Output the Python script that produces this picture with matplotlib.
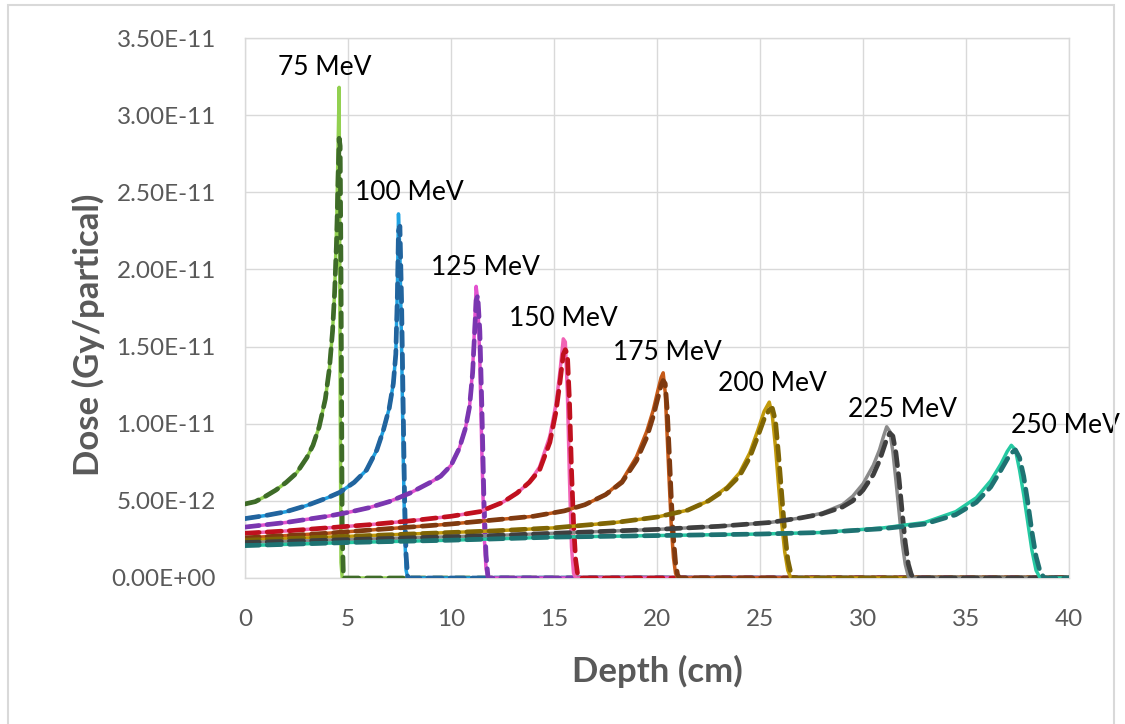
import matplotlib
matplotlib.use("Agg")
import matplotlib.pyplot as plt
from matplotlib.patches import Rectangle
from matplotlib.ticker import FixedLocator, FuncFormatter
import numpy as np

plt.rcParams['font.family'] = ['Lato', 'DejaVu Sans']

# Depth-dose curves (depth in cm, dose in 1e-12 Gy/particle)
energies = ["75 MeV", "100 MeV", "125 MeV", "150 MeV", "175 MeV", "200 MeV", "225 MeV", "250 MeV"]

d75 = [0, 0.5, 1, 1.5, 2, 2.5, 3, 3.3, 3.6, 3.9, 4.1, 4.25, 4.35, 4.45, 4.52, 4.57, 4.62, 4.66, 4.72, 4.78, 40]
s75 = [4.8, 4.95, 5.3, 5.7, 6.2, 6.8, 7.8, 8.6, 9.8, 11.6, 13.6, 16.0, 18.5, 23.0, 28.0, 31.8, 12.0, 1.0, 0, 0, 0]
m75 = [4.8, 4.95, 5.3, 5.7, 6.2, 6.8, 7.8, 8.6, 9.8, 11.6, 13.6, 16.0, 18.5, 22.0, 26.0, 28.5, 28.0, 20.0, 3.0, 0, 0]

d100 = [0, 1, 2, 3, 4, 4.6, 5.3, 5.9, 6.4, 6.7, 7.0, 7.2, 7.32, 7.4, 7.45, 7.52, 7.6, 7.68, 7.75, 7.82, 7.9, 40]
s100 = [3.85, 4.05, 4.3, 4.7, 5.2, 5.55, 6.2, 7.0, 8.3, 9.5, 11.0, 12.6, 14.5, 19.0, 23.6, 21.0, 15.0, 8.0, 3.0, 0.5, 0, 0]
m100 = [3.85, 4.05, 4.3, 4.7, 5.2, 5.55, 6.2, 7.0, 8.3, 9.5, 11.0, 12.6, 14.5, 18.5, 22.5, 22.8, 18.0, 11.0, 5.0, 1.5, 0, 0]

d125 = [0, 1, 2, 3, 4, 5, 6, 7, 8, 9, 9.5, 10, 10.4, 10.7, 10.9, 11.05, 11.15, 11.22, 11.3, 11.4, 11.5, 11.6, 11.7, 11.8, 40]
s125 = [3.3, 3.45, 3.6, 3.8, 4.0, 4.25, 4.55, 4.95, 5.5, 6.2, 6.6, 7.3, 8.4, 9.7, 11.1, 13.5, 16.5, 18.9, 18.0, 14.0, 8.0, 3.0, 0.6, 0, 0]
m125 = [3.3, 3.45, 3.6, 3.8, 4.0, 4.25, 4.55, 4.95, 5.5, 6.2, 6.6, 7.3, 8.4, 9.7, 11.1, 13.3, 16.0, 18.0, 18.3, 16.0, 11.0, 5.0, 1.5, 0, 0]

d150 = [0, 2, 4, 6, 8, 10, 11.4, 12.5, 13.2, 13.8, 14.3, 14.8, 15.1, 15.3, 15.45, 15.55, 15.65, 15.75, 15.85, 15.95, 16.05, 16.15, 16.25, 40]
s150 = [2.9, 3.05, 3.25, 3.45, 3.7, 4.0, 4.3, 4.9, 5.5, 6.2, 7.2, 9.2, 11.3, 13.5, 15.5, 15.3, 12.0, 6.5, 2.0, 0.3, 0, 0, 0, 0]
m150 = [2.9, 3.05, 3.25, 3.45, 3.7, 4.0, 4.3, 4.9, 5.5, 6.2, 7.0, 8.8, 10.8, 12.8, 14.5, 14.8, 14.5, 11.5, 7.0, 3.5, 1.2, 0.2, 0, 0]

d175 = [0, 2, 4, 6, 8, 10, 12, 14, 15.5, 16.5, 17.5, 18.3, 19.0, 19.5, 19.8, 20.05, 20.2, 20.3, 20.4, 20.5, 20.6, 20.7, 20.8, 20.9, 21.0, 21.1, 40]
s175 = [2.6, 2.75, 2.9, 3.1, 3.3, 3.5, 3.75, 4.0, 4.35, 4.75, 5.4, 6.3, 7.85, 9.5, 10.8, 12.2, 13.0, 13.3, 12.0, 9.0, 6.0, 3.2, 1.3, 0.3, 0, 0, 0]
m175 = [2.6, 2.75, 2.9, 3.1, 3.3, 3.5, 3.75, 4.0, 4.35, 4.75, 5.4, 6.2, 7.6, 9.1, 10.4, 11.7, 12.5, 12.8, 12.6, 10.8, 8.0, 5.0, 2.6, 1.0, 0.2, 0, 0]

d200 = [0, 3, 6, 9, 12, 15, 18, 20, 21.5, 22.5, 23.4, 24.0, 24.5, 24.9, 25.2, 25.45, 25.6, 25.75, 25.9, 26.05, 26.2, 26.35, 26.5, 26.65, 40]
s200 = [2.45, 2.6, 2.75, 2.9, 3.05, 3.25, 3.6, 3.95, 4.4, 5.0, 5.9, 6.8, 8.1, 9.6, 10.8, 11.4, 10.5, 8.5, 6.0, 3.6, 1.7, 0.5, 0, 0, 0]
m200 = [2.45, 2.6, 2.75, 2.9, 3.05, 3.25, 3.6, 3.95, 4.4, 5.0, 5.8, 6.6, 7.8, 9.2, 10.3, 10.9, 11.0, 10.2, 8.0, 5.5, 3.0, 1.2, 0.3, 0, 0]

d225 = [0, 4, 8, 12, 16, 20, 23, 25.5, 27, 28, 29, 29.5, 30, 30.5, 30.8, 31.0, 31.15, 31.3, 31.45, 31.6, 31.75, 31.9, 32.05, 32.2, 32.35, 32.5, 40]
s225 = [2.3, 2.45, 2.6, 2.75, 2.95, 3.15, 3.35, 3.6, 3.9, 4.2, 4.75, 5.3, 6.1, 7.3, 8.3, 9.2, 9.8, 9.5, 8.2, 6.3, 4.3, 2.3, 0.9, 0.1, 0, 0, 0]
m225 = [2.3, 2.45, 2.6, 2.75, 2.95, 3.15, 3.35, 3.6, 3.9, 4.15, 4.6, 5.0, 5.7, 6.7, 7.6, 8.4, 9.0, 9.4, 9.2, 8.1, 6.4, 4.3, 2.3, 0.9, 0.2, 0, 0]

d250 = [0, 5, 10, 15, 20, 25, 28, 31, 33, 34.5, 35.5, 36.2, 36.7, 37.0, 37.2, 37.4, 37.6, 37.8, 38.0, 38.2, 38.4, 38.6, 38.8, 40]
s250 = [2.1, 2.3, 2.45, 2.65, 2.75, 2.85, 2.95, 3.25, 3.6, 4.3, 5.2, 6.3, 7.4, 8.2, 8.6, 8.3, 7.0, 5.4, 3.6, 1.8, 0.5, 0, 0, 0]
m250 = [2.1, 2.3, 2.45, 2.65, 2.75, 2.85, 2.95, 3.2, 3.5, 4.1, 4.9, 5.9, 7.0, 7.7, 8.1, 8.3, 7.8, 6.6, 4.9, 3.0, 1.4, 0.4, 0, 0]

depths = [d75, d100, d125, d150, d175, d200, d225, d250]
solid_dose = [s75, s100, s125, s150, s175, s200, s225, s250]
dashed_dose = [m75, m100, m125, m150, m175, m200, m225, m250]

solid_colors = ["#92D050", "#1FA2E2", "#E352CF", "#F163B5", "#C65A18", "#C29A0A", "#8A8A8A", "#25C9A2"]
dashed_colors = ["#3E6B28", "#21649E", "#7A36B0", "#C0101E", "#7F3A10", "#7F6505", "#3F3F3F", "#1E7272"]

# Energy label anchors (depth, dose in 1e-12)
label_x = [3.88, 7.99, 11.65, 15.44, 20.49, 25.59, 31.9, 39.85]
label_y = [33.1, 25.0, 20.1, 16.85, 14.6, 12.6, 10.9, 9.9]

scale = 1e-12

fig = plt.figure(figsize=(11.25, 7.24), dpi=100)
fig.patch.set_facecolor("white")
fig.patches.append(Rectangle((8 / 1125, -0.05), 1106 / 1125, 1.05 - 5 / 724,
                             transform=fig.transFigure, fill=False,
                             edgecolor="#D9D9D9", linewidth=1.5))

ax = fig.add_axes([245 / 1125, 1 - 578 / 724, 824 / 1125, 540 / 724])

for x, ys, yd, cs, cd in zip(depths, solid_dose, dashed_dose, solid_colors, dashed_colors):
    xa = np.array(x)
    ax.plot(xa, np.array(ys) * scale, color=cs, linewidth=2.5, solid_joinstyle="round", zorder=3)
    ax.plot(xa, np.array(yd) * scale, color=cd, linewidth=3.4, dashes=(3.0, 1.7),
            dash_capstyle="round", zorder=3)

for name, lx, ly in zip(energies, label_x, label_y):
    ax.text(lx, ly * scale, name, ha="center", va="center", fontsize=19,
            color="black", clip_on=False)

ax.set_xlim(0, 40)
ax.set_ylim(0, 3.5e-11)
ax.xaxis.set_major_locator(FixedLocator(np.arange(0, 41, 5)))
ax.yaxis.set_major_locator(FixedLocator(np.arange(0, 3.51e-11, 5e-12)))
ax.yaxis.set_major_formatter(FuncFormatter(lambda v, p: "{:.2E}".format(0.0 if abs(v) < 1e-20 else v)))
ax.xaxis.set_major_formatter(FuncFormatter(lambda v, p: "{:g}".format(v)))

ax.grid(True, color="#D9D9D9", linewidth=1.0, zorder=0)
ax.set_axisbelow(True)
for s in ax.spines.values():
    s.set_color("#D9D9D9")
    s.set_linewidth(1.0)
ax.tick_params(axis="x", length=0, labelsize=17.5, labelcolor="#595959", pad=22)
ax.tick_params(axis="y", length=0, labelsize=17.5, labelcolor="#595959", pad=21)

ax.set_xlabel("Depth (cm)", fontsize=25, fontweight="bold", color="#595959")
ax.set_ylabel("Dose (Gy/partical)", fontsize=25, fontweight="bold", color="#595959")
ax.xaxis.set_label_coords(0.5, -0.142)
ax.yaxis.set_label_coords(-0.170, 0.45)

fig.savefig("out.png", dpi=100, facecolor="white")
